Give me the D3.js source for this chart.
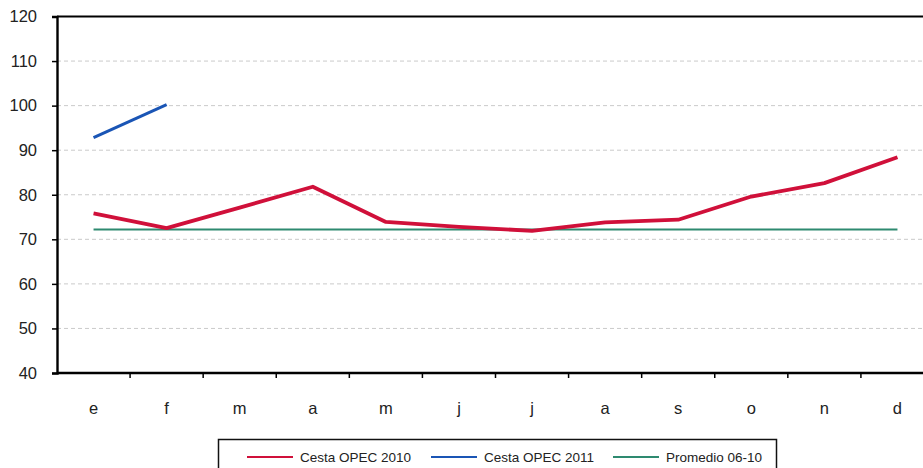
<!DOCTYPE html>
<html><head><meta charset="utf-8">
<script src="https://cdn.jsdelivr.net/npm/d3@7"></script>
<style>body{margin:0;background:#fff;}svg{display:block;font-family:"Liberation Sans",Arial,sans-serif;}</style>
</head><body>
<svg id="c" width="923" height="468"></svg>
<script>
const months = ["e","f","m","a","m","j","j","a","s","o","n","d"];
const cesta2010 = [75.8, 72.5, 77.1, 81.8, 73.9, 72.8, 71.9, 73.8, 74.4, 79.6, 82.6, 88.4];
const cesta2011 = [92.8, 100.2];
const promedio = [72.2, 72.2, 72.2, 72.2, 72.2, 72.2, 72.2, 72.2, 72.2, 72.2, 72.2, 72.2];
const yTicks = [40, 50, 60, 70, 80, 90, 100, 110, 120];
const seriesNames = ["Cesta OPEC 2010", "Cesta OPEC 2011", "Promedio 06-10"];
const colors = ["#d0103a", "#1a55b5", "#2e8a70"];

const svg = d3.select("#c");
const mLeft = 57, mRight = 934, mTop = 16.5, mBottom = 373;
const idx = months.map((m, i) => i);
const x = d3.scaleBand().domain(idx).range([mLeft, mRight]);
const y = d3.scaleLinear().domain([40, 120]).range([mBottom, mTop]);
const cx = i => x(i) + x.bandwidth() / 2;

// gridlines
svg.append("g").selectAll("line").data(yTicks.filter(v => v > 40 && v < 120)).join("line")
  .attr("x1", mLeft).attr("x2", 923).attr("y1", d => y(d)).attr("y2", d => y(d))
  .attr("stroke", "#cacaca").attr("stroke-width", 1).attr("stroke-dasharray", "4,3");

// y axis
const ya = svg.append("g").attr("transform", `translate(${mLeft},0)`)
  .call(d3.axisLeft(y).tickValues(yTicks).tickSize(5).tickPadding(15));
ya.select(".domain").attr("stroke", "#000").attr("stroke-width", 2.4);
ya.selectAll(".tick line").attr("stroke", "#000").attr("stroke-width", 1.5);
ya.selectAll(".tick text").attr("font-size", 16.5).attr("fill", "#222").attr("font-family", "Liberation Sans, Arial, sans-serif");

// top border
svg.append("line").attr("x1", mLeft).attr("x2", 923).attr("y1", mTop).attr("y2", mTop)
  .attr("stroke", "#000").attr("stroke-width", 2);

// x axis
const xa = svg.append("g").attr("transform", `translate(0,${mBottom})`)
  .call(d3.axisBottom(x).tickFormat(i => months[i]).tickSize(0).tickPadding(29));
xa.select(".domain").remove();
xa.selectAll(".tick text").attr("font-size", 16.5).attr("fill", "#222").attr("font-family", "Liberation Sans, Arial, sans-serif");
svg.append("line").attr("x1", mLeft).attr("x2", 923).attr("y1", mBottom).attr("y2", mBottom)
  .attr("stroke", "#000").attr("stroke-width", 2.4);
svg.append("g").selectAll("line").data(idx.slice(1)).join("line")
  .attr("x1", d => x(d)).attr("x2", d => x(d)).attr("y1", mBottom).attr("y2", mBottom + 5)
  .attr("stroke", "#000").attr("stroke-width", 1.5);

// lines
const line = d3.line().x((d, i) => cx(i)).y(d => y(d));
svg.append("path").datum(promedio).attr("d", line).attr("fill", "none")
  .attr("stroke", colors[2]).attr("stroke-width", 2);
svg.append("path").datum(cesta2010).attr("d", line).attr("fill", "none")
  .attr("stroke", colors[0]).attr("stroke-width", 3.8).attr("stroke-linejoin", "round");
svg.append("path").datum(cesta2011).attr("d", line).attr("fill", "none")
  .attr("stroke", colors[1]).attr("stroke-width", 3).attr("stroke-linejoin", "round");

// legend
const lg = svg.append("g");
lg.append("rect").attr("x", 218.5).attr("y", 439.5).attr("width", 558).attr("height", 40)
  .attr("fill", "#fff").attr("stroke", "#111").attr("stroke-width", 1.5);
const legX = [247, 431, 613];
seriesNames.forEach((n, i) => {
  lg.append("line").attr("x1", legX[i]).attr("x2", legX[i] + 46).attr("y1", 457).attr("y2", 457)
    .attr("stroke", colors[i]).attr("stroke-width", 2);
  lg.append("text").attr("x", legX[i] + 53).attr("y", 462).attr("font-size", 13.5)
    .attr("fill", "#222").text(n);
});
</script>
</body></html>
